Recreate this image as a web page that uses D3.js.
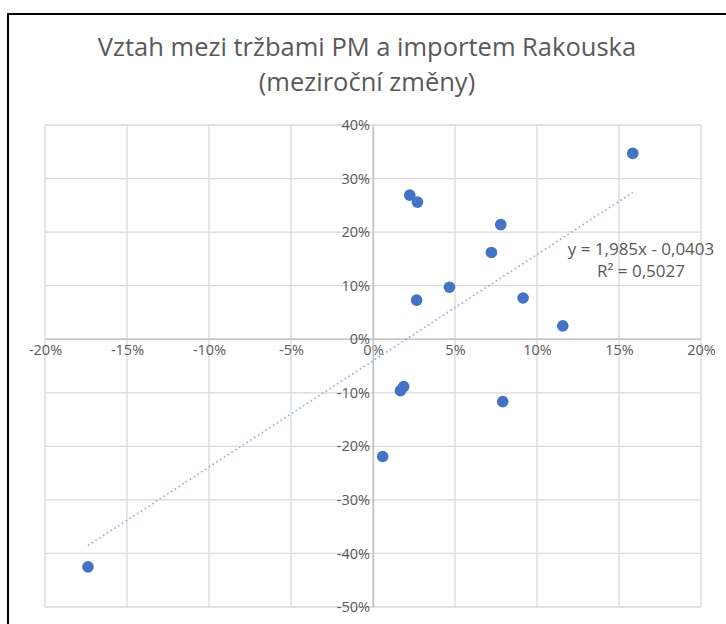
<!DOCTYPE html>
<html>
<head>
<meta charset="utf-8">
<script src="https://cdn.jsdelivr.net/npm/d3@7"></script>
<style>
  html, body { margin: 0; background: #fff; overflow: hidden; }
  svg { display: block; }
  svg text { font-family: "Open Sans", "Noto Sans", sans-serif; fill: #595959; }
</style>
</head>
<body>
<div id="chart"></div>
<script>
// meziroční změny: tržby PM (x) vs import Rakouska (y)
const salesPM = [-0.1738, 0.0059, 0.0167, 0.0187, 0.0224, 0.0271, 0.0266, 0.0466, 0.0722, 0.0779, 0.0791, 0.0915, 0.1157, 0.1584];
const importAT = [-0.425, -0.219, -0.096, -0.0885, 0.269, 0.256, 0.073, 0.097, 0.162, 0.214, -0.1165, 0.077, 0.025, 0.347];
const xTicks = [-0.2, -0.15, -0.1, -0.05, 0, 0.05, 0.1, 0.15, 0.2];
const yTicks = [-0.5, -0.4, -0.3, -0.2, -0.1, 0, 0.1, 0.2, 0.3, 0.4];
const trendSlope = 1.985;
const trendIntercept = -0.0403;
const trendLabel = ["y = 1,985x - 0,0403", "R² = 0,5027"];
const titleLines = ["Vztah mezi tržbami PM a importem Rakouska", "(meziroční změny)"];

const width = 726, height = 624;
const plot = { left: 45, right: 701, top: 125, bottom: 607 };

const svg = d3.select("#chart").append("svg")
    .attr("width", width)
    .attr("height", height);

// chart frame: only the top and left edges are inside the picture
svg.append("path")
    .attr("d", "M8,660V14H760")
    .attr("fill", "none")
    .attr("stroke", "#000")
    .attr("stroke-width", 2);

const x = d3.scaleLinear().domain([-0.2, 0.2]).range([plot.left, plot.right]);
const y = d3.scaleLinear().domain([-0.5, 0.4]).range([plot.bottom, plot.top]);
const pct = d => Math.round(d * 100) + "%";

// title
svg.append("g").selectAll("text")
    .data(titleLines)
    .enter().append("text")
    .attr("x", 367)
    .attr("y", (d, i) => 56 + i * 35)
    .attr("text-anchor", "middle")
    .attr("font-size", 25.5)
    .text(d => d);

// gridlines
svg.append("g").selectAll("line")
    .data(xTicks)
    .enter().append("line")
    .attr("x1", d => x(d)).attr("x2", d => x(d))
    .attr("y1", plot.top).attr("y2", plot.bottom)
    .attr("stroke", "#d9d9d9")
    .attr("stroke-width", 1.3);

svg.append("g").selectAll("line")
    .data(yTicks)
    .enter().append("line")
    .attr("x1", plot.left).attr("x2", plot.right)
    .attr("y1", d => y(d)).attr("y2", d => y(d))
    .attr("stroke", "#d9d9d9")
    .attr("stroke-width", 1.3);

// axes through zero
const xAxis = d3.axisBottom(x).tickValues(xTicks).tickFormat(pct).tickSize(0).tickPadding(5);
const yAxis = d3.axisLeft(y).tickValues(yTicks).tickFormat(pct).tickSize(0).tickPadding(3);

const gx = svg.append("g")
    .attr("transform", `translate(0,${y(0)})`)
    .call(xAxis);
const gy = svg.append("g")
    .attr("transform", `translate(${x(0)},0)`)
    .call(yAxis);

[gx, gy].forEach(g => {
    g.select(".domain").attr("stroke", "#bfbfbf").attr("stroke-width", 1.3);
    g.selectAll("text")
        .attr("font-size", 14.5)
        .attr("fill", "#595959")
        .style("font-family", "\"Open Sans\", sans-serif");
});
gx.select(".domain").attr("d", `M${plot.left},0H${plot.right}`);

// trendline
const xMin = d3.min(salesPM), xMax = d3.max(salesPM);
svg.append("line")
    .attr("x1", x(xMin)).attr("y1", y(trendSlope * xMin + trendIntercept))
    .attr("x2", x(xMax)).attr("y2", y(trendSlope * xMax + trendIntercept))
    .attr("stroke", "#8faadc")
    .attr("stroke-width", 1.7)
    .attr("stroke-dasharray", "1.5 3");

// points
svg.append("g").selectAll("circle")
    .data(salesPM.map((d, i) => [d, importAT[i]]))
    .enter().append("circle")
    .attr("cx", d => x(d[0]))
    .attr("cy", d => y(d[1]))
    .attr("r", 5.8)
    .attr("fill", "#4472c4");

// trendline label
svg.append("g").selectAll("text")
    .data(trendLabel)
    .enter().append("text")
    .attr("x", 641)
    .attr("y", (d, i) => 255 + i * 22)
    .attr("text-anchor", "middle")
    .attr("font-size", 17)
    .text(d => d);
</script>
</body>
</html>
